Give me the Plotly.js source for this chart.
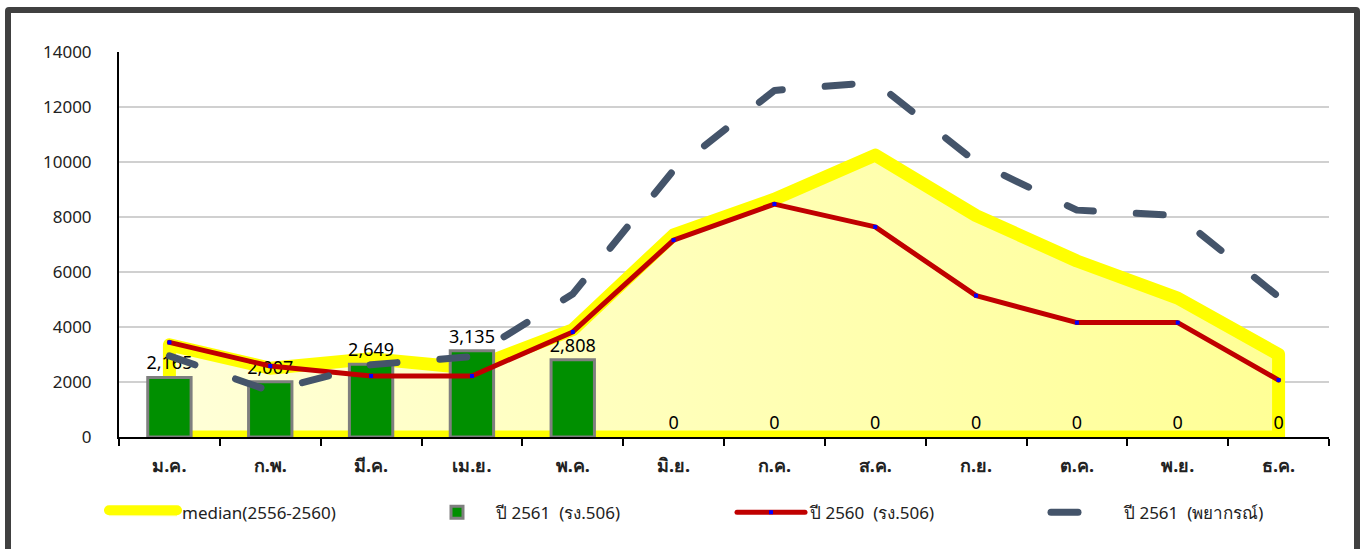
<!DOCTYPE html>
<html>
<head>
<meta charset="utf-8">
<script src="https://cdn.plot.ly/plotly-3.0.1.min.js"></script>
<style>
  html, body { margin: 0; padding: 0; background: #ffffff; overflow: hidden; }
  #wrap { position: relative; width: 1360px; height: 549px; }
  #chart { position: absolute; left: 0; top: 0; width: 1360px; height: 549px; }
  #frame { position: absolute; left: 5px; top: 7px; width: 1343px; height: 560px;
           border: 6px solid #404040; border-radius: 4px; pointer-events: none; box-sizing: content-box; }
</style>
</head>
<body>
<div id="wrap">
  <div id="chart"></div>
  <div id="frame"></div>
</div>
<script>
// ---- data ----
const months = ["ม.ค.", "ก.พ.", "มี.ค.", "เม.ย.", "พ.ค.", "มิ.ย.", "ก.ค.", "ส.ค.", "ก.ย.", "ต.ค.", "พ.ย.", "ธ.ค."];
const median2556_2560 = [3350, 2500, 2850, 2500, 3900, 7350, 8650, 10250, 8050, 6400, 5050, 3000];
const actual2561 = [2165, 2007, 2649, 3135, 2808, 0, 0, 0, 0, 0, 0, 0];
const actual2560 = [3440, 2580, 2220, 2220, 3820, 7160, 8470, 7640, 5140, 4160, 4160, 2070];
const forecast2561 = [2950, 1670, 2630, 2920, 5200, 9700, 12600, 12900, 10000, 8250, 8050, 5100];
const yTicks = [0, 2000, 4000, 6000, 8000, 10000, 12000, 14000];

const seriesNames = ["median(2556-2560)", "ปี 2561  (รง.506)", "ปี 2560  (รง.506)", "ปี 2561  (พยากรณ์)"];

// closed outline for the median area (down to zero at both ends)
const areaX = months.concat([months[months.length - 1], months[0], months[0]]);
const areaY = median2556_2560.concat([0, 0, median2556_2560[0]]);

const FONT = "Tahoma, 'Noto Sans', 'DejaVu Sans', sans-serif";

const traces = [
  {
    name: seriesNames[0],
    type: "scatter", mode: "lines",
    x: areaX, y: areaY,
    fill: "toself",
    fillcolor: "#ffffb0",
    fillgradient: { type: "horizontal", colorscale: [[0, "#ffffd8"], [1, "#ffff96"]] },
    line: { color: "#ffff00", width: 13 },
    xaxis: "x", yaxis: "y",
    hoverinfo: "skip"
  },
  {
    name: seriesNames[1],
    type: "bar",
    x: months, y: actual2561,
    width: 0.43,
    marker: { color: "#008f00", line: { color: "#7f7f7f", width: actual2561.map(v => v > 0 ? 3 : 0) } },
    text: actual2561.map(v => v.toLocaleString("en-US")),
    textposition: "outside",
    constraintext: "none",
    cliponaxis: false,
    textfont: { family: FONT, size: 18, color: "#000000" },
    xaxis: "x2", yaxis: "y2"
  },
  {
    name: seriesNames[2],
    type: "scatter", mode: "lines+markers",
    x: months, y: actual2560,
    line: { color: "#c00000", width: 5 },
    marker: { color: "#0000ff", size: 4, symbol: "square" },
    xaxis: "x2", yaxis: "y2"
  },
  {
    name: seriesNames[3],
    type: "scatter", mode: "lines",
    x: months, y: forecast2561,
    line: { color: "#44546a", width: 7, dash: "27px,43px" },
    xaxis: "x2", yaxis: "y2"
  }
];

const layout = {
  width: 1360, height: 549,
  margin: { l: 119, r: 31, t: 52, b: 112 },
  paper_bgcolor: "#ffffff", plot_bgcolor: "rgba(0,0,0,0)",
  showlegend: true,
  barmode: "overlay",
  font: { family: FONT, color: "#222222" },
  xaxis: {
    type: "category", categoryorder: "array", categoryarray: months,
    range: [-0.5, 11.5],
    showline: true, linecolor: "#000000", linewidth: 2,
    ticks: "outside", tickson: "boundaries", ticklen: 7, tickcolor: "#000000", tickwidth: 2,
    showgrid: false,
    tickfont: { family: FONT, size: 18, color: "#222222", weight: "bold" },
    ticklabelstandoff: 11,
    fixedrange: true
  },
  yaxis: {
    range: [0, 14000],
    tickvals: yTicks,
    ticktext: yTicks.map(String),
    showgrid: true, gridcolor: "#d0d0d0", gridwidth: 2,
    zeroline: false,
    tickfont: { family: FONT, size: 17, color: "#222222" },
    ticks: "", ticklabelstandoff: 22,
    showline: true, linecolor: "#000000", linewidth: 2,
    fixedrange: true
  },
  xaxis2: {
    type: "category", categoryorder: "array", categoryarray: months,
    range: [-0.5, 11.5], overlaying: "x", visible: false, fixedrange: true
  },
  yaxis2: { range: [0, 14000], overlaying: "y", visible: false, fixedrange: true },
  legend: {
    orientation: "h",
    x: -0.0005, xanchor: "left",
    y: -0.15, yanchor: "top",
    font: { family: FONT, size: 17, color: "#222222" },
    entrywidth: 231, entrywidthmode: "pixels",
    itemwidth: 68,
    traceorder: "normal",
    bgcolor: "rgba(0,0,0,0)"
  }
};

Plotly.newPlot("chart", traces, layout, { displayModeBar: false, staticPlot: true }).then(function (gd) {
  // round caps for the thick lines (style only)
  gd.querySelectorAll(".scatterlayer .trace .js-line").forEach(function (p) {
    p.style.strokeLinecap = "round"; p.style.strokeLinejoin = "round";
  });
  gd.querySelectorAll(".legend .legendlines path").forEach(function (p) { p.style.strokeLinecap = "round"; });
});
</script>
</body>
</html>
